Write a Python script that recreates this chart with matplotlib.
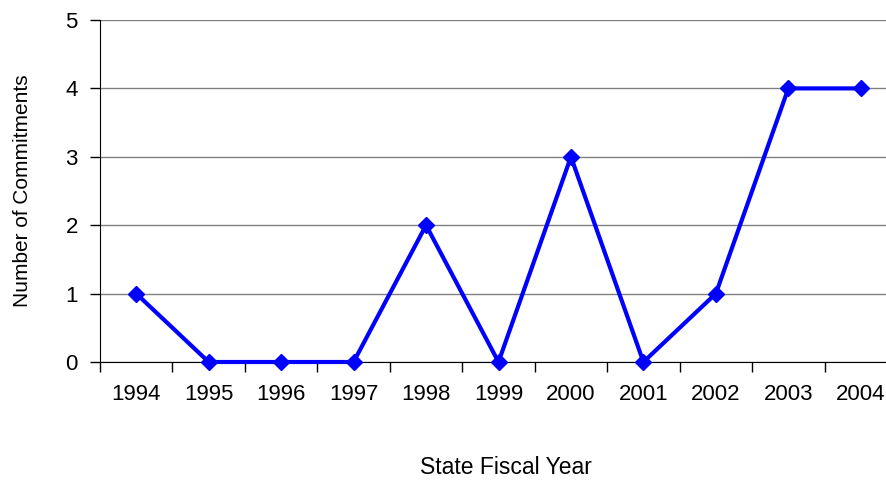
import matplotlib
matplotlib.use("Agg")
import matplotlib.pyplot as plt

plt.rcParams["font.family"] = ["Liberation Sans", "DejaVu Sans"]

years = ["1994", "1995", "1996", "1997", "1998", "1999", "2000", "2001", "2002", "2003", "2004"]
commitments = [1, 0, 0, 0, 2, 0, 3, 0, 1, 4, 4]
y_ticks = [0, 1, 2, 3, 4, 5]

W, H = 886, 480
fig = plt.figure(figsize=(W / 100, H / 100), dpi=100)
ax = fig.add_axes([100 / W, (H - 362) / H, 797 / W, 342 / H])

x = list(range(len(years)))
ax.plot(x, commitments, color="#0000FF", linewidth=3, marker="D", markersize=8,
        zorder=3, clip_on=False)

ax.set_xlim(-0.5, len(years) - 0.5)
ax.set_ylim(0, 5)
ax.set_yticks(y_ticks)
ax.set_yticklabels([str(v) for v in y_ticks], fontsize=16)
ax.set_xticks([i + 0.5 for i in range(-1, len(years))], minor=False)
ax.set_xticklabels([])
ax.set_xticks(x, minor=True)
ax.set_xticklabels(years, minor=True, fontsize=16)
ax.tick_params(axis="x", which="minor", length=0, pad=16)
ax.tick_params(axis="x", which="major", length=7, direction="out", color="black", width=1)
ax.tick_params(axis="y", length=7, direction="out", color="black", width=1, pad=9)

ax.grid(axis="y", color="#808080", linewidth=1)
ax.set_axisbelow(True)
for side in ("top", "right"):
    ax.spines[side].set_visible(False)
ax.spines["left"].set_color("black")
ax.spines["bottom"].set_color("black")

ax.set_ylabel("Number of Commitments", fontsize=15, labelpad=24)
fig.text(506 / W, 1 - 467 / H, "State Fiscal Year", ha="center", va="center", fontsize=16.5)

fig.savefig("out.png", dpi=100, facecolor="white")
